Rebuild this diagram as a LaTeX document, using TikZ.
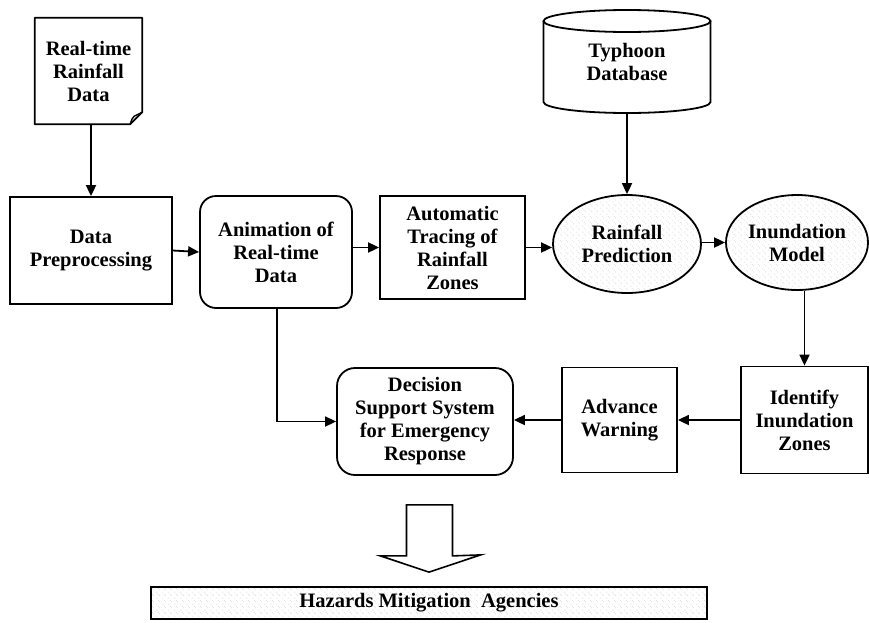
\documentclass[tikz,border=0pt]{standalone}
\usepackage{fontspec}
\setmainfont{Liberation Serif}
\usetikzlibrary{arrows.meta,shapes.geometric,calc,patterns.meta}

% faint stipple used for the shaded shapes
\tikzdeclarepattern{
  name=speckle,
  type=uncolored,
  bottom left={(0pt,0pt)},
  top right={(6pt,6pt)},
  tile size={(6pt,6pt)},
  code={
    \fill (1pt,1pt) circle [radius=0.35pt];
    \fill (4pt,3.5pt) circle [radius=0.3pt];
    \fill (2.5pt,5pt) circle [radius=0.3pt];
  }
}

\begin{document}
\begin{tikzpicture}[x=1pt,y=-1pt,
  every node/.style={font=\fontsize{20.5}{23}\selectfont\bfseries,
                     align=center, inner sep=0pt},
  sqbox/.style={draw, line width=1.8pt},
  rbox/.style={draw, line width=1.8pt, rounded corners=16pt},
  oval/.style={ellipse, draw, line width=1.8pt,
               pattern=speckle, pattern color=black!55},
  plain/.style={line width=1.8pt},
  arr/.style={line width=1.8pt, -{Triangle[length=11pt,width=10pt]}},
  bigarrow/.style={draw, line width=1.6pt, line join=miter, fill=white}
]
\useasboundingbox (0,0) rectangle (869,622);

% ---- input document (page with curled corner)
\node[minimum width=107, minimum height=106] (rtd) at (88.5,71)
  {Real-time\\Rainfall\\Data};
\draw[plain, line join=round]
  (rtd.north west) -- (rtd.north east) -- ($(rtd.south east)+(0,-12)$)
  -- ($(rtd.south east)+(-12,0)$) -- (rtd.south west) -- cycle;
\draw[line width=1.4pt]
  ($(rtd.south east)+(-12,0)$) .. controls ($(rtd.south east)+(-10,-6)$) ..
  ($(rtd.south east)+(-8,-8)$) -- ($(rtd.south east)+(0,-12)$);

% ---- database cylinder
\node[minimum width=167, minimum height=103] (tdb) at (627,61.5)
  {Typhoon\\Database};
\draw[plain] (627,21) ellipse [x radius=83.5pt, y radius=11pt];
\draw[plain] (543.5,21) -- (543.5,102)
  arc [start angle=180, end angle=360, x radius=83.5pt, y radius=11pt]
  -- (710.5,21);

% ---- upper row
\node[sqbox, minimum width=162, minimum height=107] (dp) at (91,250.5)
  {Data\\Preprocessing};
\node[rbox, minimum width=152, minimum height=112] (anim) at (276,252)
  {Animation of\\Real-time\\Data};
\node[sqbox, minimum width=145, minimum height=103] (auto) at (452.5,247.5)
  {Automatic\\Tracing of\\Rainfall\\Zones};
\node[oval, minimum width=148, minimum height=98] (rp) at (627,244)
  {Rainfall\\Prediction};
\node[oval, minimum width=142, minimum height=95] (im) at (797,242.5)
  {Inundation\\Model};

% ---- lower row
\node[rbox, rounded corners=18pt, minimum width=176, minimum height=107]
  (dss) at (425,421.5)
  {Decision\\Support System\\for Emergency\\Response};
\node[sqbox, minimum width=115, minimum height=105] (aw) at (619.5,420)
  {Advance\\Warning};
\node[sqbox, minimum width=127, minimum height=107] (iz) at (804.5,420)
  {Identify\\Inundation\\Zones};

% ---- output bar
\node[sqbox, pattern=speckle, pattern color=black!55,
      minimum width=556, minimum height=32] (hma) at (429,603)
  {Hazards Mitigation\ \ Agencies};

% ---- connectors
\draw[arr] (rtd.south -| dp.north) -- (dp.north);
\draw[arr] (dp.east) -- (anim.west);
\draw[arr] (anim.east |- auto.west) -- (auto.west);
\draw[arr] (auto.east) -- (auto.east -| rp.west);
\draw[arr] (tdb.south) -- (rp.north);
\draw[arr] (rp.east |- im.west) -- (im.west);
\draw[arr] (iz.north |- im.south) -- (iz.north);
\draw[arr] (iz.west) -- (aw.east);
\draw[arr] (aw.west) -- (aw.west -| dss.east);
\draw[arr] ($(anim.south)+(1,0)$) |- (dss.west);

% ---- broad outlined arrow towards the agencies
\coordinate (sh) at ($(dss.south)+(4.5,29)$);
\coordinate (tip) at ($(hma.north)+(0,-14)$);
\draw[bigarrow]
  ($(sh)+(-23,0)$) -- ($(sh)+(23,0)$) -- ($(sh)+(23,51)$)
  -- ($(sh)+(51,50)$) -- (tip) -- ($(sh)+(-49,51)$)
  -- ($(sh)+(-23,51)$) -- cycle;
\end{tikzpicture}
\end{document}
